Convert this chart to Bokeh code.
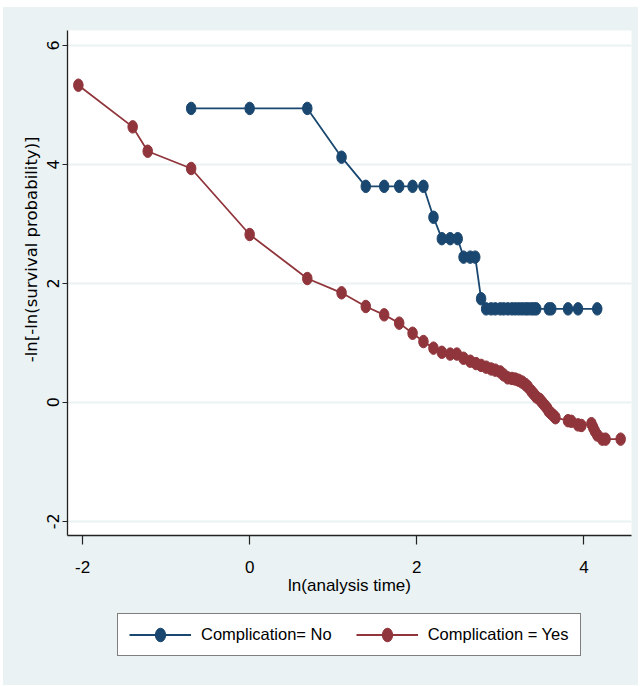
from bokeh.plotting import figure
from bokeh.layouts import column
from bokeh.models import Range1d, FixedTicker, Legend, LegendItem, Title
from bokeh.embed import file_html
from bokeh.resources import INLINE

# ---- data ----
series_names = ["Complication= No", "Complication = Yes"]

no_x = [-0.70, 0.00, 0.69, 1.10, 1.39, 1.61, 1.79, 1.95, 2.08, 2.20,
        2.30, 2.40, 2.49, 2.56, 2.64, 2.70, 2.77, 2.83, 2.89, 2.94,
        3.00, 3.04, 3.09, 3.14, 3.18, 3.22, 3.26, 3.30, 3.33, 3.37,
        3.40, 3.43, 3.58, 3.61, 3.81, 3.93, 4.16]
no_y = [4.94, 4.94, 4.94, 4.12, 3.63, 3.63, 3.63, 3.63, 3.63, 3.11,
        2.75, 2.75, 2.75, 2.44, 2.44, 2.44, 1.74, 1.57, 1.57, 1.57,
        1.57, 1.57, 1.57, 1.57, 1.57, 1.57, 1.57, 1.57, 1.57, 1.57,
        1.57, 1.57, 1.57, 1.57, 1.57, 1.57, 1.57]

yes_x = [-2.05, -1.40, -1.22, -0.70, 0.00, 0.69, 1.10, 1.39, 1.61, 1.79,
         1.95, 2.08, 2.20, 2.30, 2.40, 2.48, 2.56, 2.64, 2.71, 2.77,
         2.83, 2.89, 2.94, 3.00, 3.04, 3.09, 3.14, 3.18, 3.22, 3.26,
         3.30, 3.33, 3.37, 3.40, 3.43, 3.47, 3.50, 3.53, 3.56, 3.58,
         3.61, 3.64, 3.66, 3.81, 3.85, 3.93, 3.97, 4.09, 4.11, 4.13,
         4.16, 4.22, 4.26, 4.44]
yes_y = [5.33, 4.63, 4.22, 3.93, 2.82, 2.08, 1.84, 1.61, 1.47, 1.33,
         1.16, 1.02, 0.91, 0.84, 0.81, 0.81, 0.74, 0.69, 0.65, 0.62,
         0.59, 0.56, 0.54, 0.51, 0.46, 0.41, 0.40, 0.39, 0.37, 0.34,
         0.30, 0.26, 0.19, 0.14, 0.09, 0.05, 0.00, -0.05, -0.10, -0.15,
         -0.19, -0.23, -0.26, -0.31, -0.32, -0.38, -0.39, -0.36, -0.42, -0.48,
         -0.55, -0.62, -0.62, -0.62]

x_ticks = [-2, 0, 2, 4]
y_ticks = [-2, 0, 2, 4, 6]
x_title = "ln(analysis time)"
y_title = "-ln[-ln(survival probability)]"

# ---- styles ----
BG = "#EAF2F3"
NAVY = "#1A476F"
MAROON = "#90353B"
SANS = "'Liberation Sans', Arial, sans-serif"
WIDE = "'DejaVu Sans', sans-serif"
MARK_W, MARK_H = 9.5, 12.5


def add_series(fig):
    l1 = fig.line(no_x, no_y, line_color=NAVY, line_width=1.8)
    m1 = fig.ellipse(no_x, no_y, width=MARK_W, height=MARK_H, width_units="screen",
                     height_units="screen", fill_color=NAVY, line_color=NAVY)
    l2 = fig.line(yes_x, yes_y, line_color=MAROON, line_width=1.8)
    m2 = fig.ellipse(yes_x, yes_y, width=MARK_W, height=MARK_H, width_units="screen",
                     height_units="screen", fill_color=MAROON, line_color=MAROON)
    return l1, m1, l2, m2


# ---- main plot ----
fig = figure(width=635, height=601, output_backend="svg", toolbar_location=None,
             x_range=Range1d(-2.18, 4.57), y_range=Range1d(-2.24, 6.25),
             min_border_left=64, min_border_right=7, min_border_top=23,
             min_border_bottom=73)
fig.background_fill_color = "white"
fig.border_fill_color = BG
fig.outline_line_color = None

fig.xgrid.visible = False
fig.ygrid.grid_line_color = BG
fig.ygrid.grid_line_width = 2

for ax in (fig.xaxis[0], fig.yaxis[0]):
    ax.axis_line_color = "#222222"
    ax.axis_line_width = 1.3
    ax.major_tick_line_color = "#222222"
    ax.major_tick_line_width = 1.2
    ax.major_tick_in = 0
    ax.minor_tick_line_color = None

xa = fig.xaxis[0]
xa.ticker = FixedTicker(ticks=x_ticks)
xa.major_label_overrides = {t: str(t) for t in x_ticks}
xa.major_tick_out = 9
xa.major_label_standoff = 16
xa.major_label_text_font = SANS
xa.major_label_text_font_size = "17px"
xa.major_label_text_color = "black"
xa.axis_label = x_title
xa.axis_label_text_font = SANS
xa.axis_label_text_font_size = "17px"
xa.axis_label_text_font_style = "normal"
xa.axis_label_text_color = "black"
xa.axis_label_standoff = 0

ya = fig.yaxis[0]
ya.ticker = FixedTicker(ticks=y_ticks)
ya.major_label_overrides = {t: str(t) for t in y_ticks}
ya.major_tick_out = 5
ya.major_label_standoff = 3
ya.major_label_orientation = "vertical"
ya.major_label_text_font = WIDE
ya.major_label_text_font_size = "16px"
ya.major_label_text_color = "black"

fig.add_layout(Title(text=y_title, align="right", offset=106,
                     text_font=WIDE, text_font_size="16.5px",
                     text_font_style="normal", text_color="black",
                     standoff=8), "left")

add_series(fig)

# ---- legend strip (same series, kept out of view; only the legend shows) ----
fig_legend = figure(width=635, height=77, output_backend="svg", toolbar_location=None,
                    x_range=Range1d(100, 101), y_range=Range1d(100, 101),
                    x_axis_location=None, y_axis_location=None, min_border=0)
fig_legend.background_fill_color = BG
fig_legend.border_fill_color = BG
fig_legend.outline_line_color = None
for g in fig_legend.grid:
    g.visible = False

k1, k2, k3, k4 = add_series(fig_legend)
legend = Legend(items=[LegendItem(label=series_names[0], renderers=[k1, k2]),
                       LegendItem(label=series_names[1], renderers=[k3, k4])],
                orientation="horizontal", location=(50, 29),
                glyph_width=62, glyph_height=17, label_standoff=10,
                spacing=24, padding=11, margin=0,
                border_line_color="black", border_line_width=1,
                background_fill_color="white", background_fill_alpha=1,
                label_text_font=SANS, label_text_font_size="16.5px",
                label_text_color="black")
fig_legend.add_layout(legend, "center")

p = column(fig, fig_legend, spacing=0)
p.margin = (7, 0, 0, 3)
p.styles = {"background-color": BG}

open("out.html", "w").write(file_html(p, INLINE))
